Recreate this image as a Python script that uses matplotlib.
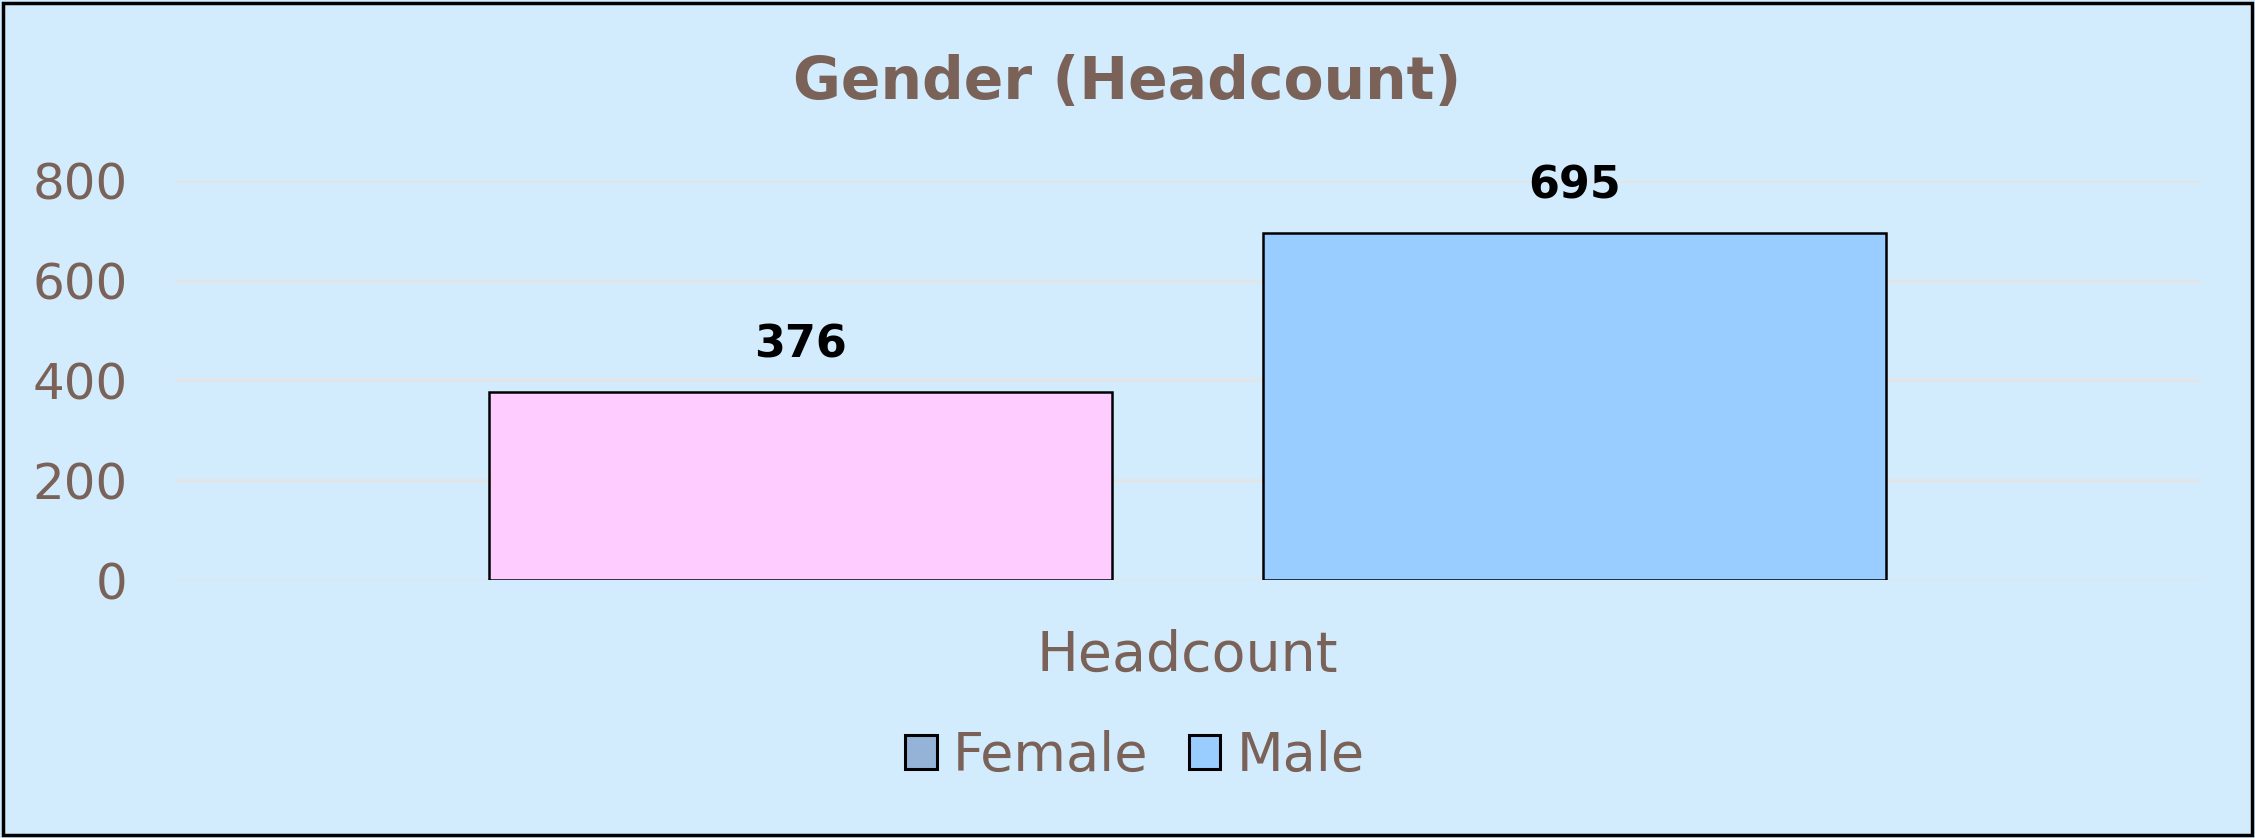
import matplotlib
matplotlib.use("Agg")
import matplotlib.pyplot as plt
from matplotlib.patches import Patch, Rectangle

categories = ["Headcount"]
series_names = ["Female", "Male"]
female_values = [376]
male_values = [695]
y_ticks = [0, 200, 400, 600, 800]

bg = "#D3ECFD"
txt = "#7A6258"
bar_colors = ["#FFCCFF", "#99CCFF"]
legend_colors = ["#95B3D7", "#99CCFF"]

W, H = 2255, 838
fig = plt.figure(figsize=(W / 100, H / 100), dpi=100)
fig.patch.set_facecolor(bg)
font = "DejaVu Sans"

ax = fig.add_axes([175 / W, 1 - 580 / H, (2200 - 175) / W, (580 - 181) / H])
ax.set_facecolor(bg)

width = 0.804
offsets = [-0.5, 0.5]
values = [female_values, male_values]
for name, off, vals, col in zip(series_names, offsets, values, bar_colors):
    xs = [i + off for i in range(len(categories))]
    bars = ax.bar(xs, vals, width=width, color=col, edgecolor="black", linewidth=1.8, zorder=3)
    for b, v in zip(bars, vals):
        ax.text(b.get_x() + b.get_width() / 2, v + 52, f"{v}", ha="center", va="bottom",
                fontsize=32, fontweight="bold", color="black", family=font, clip_on=False)

ax.set_xlim(-1.307, 1.307)
ax.set_ylim(0, 800)
ax.set_yticks(y_ticks)
ax.yaxis.grid(True, color="#E4E4E4", linewidth=2, zorder=0)
ax.set_axisbelow(True)
ax.set_xticks(range(len(categories)))
ax.set_xticklabels(categories)
for s in ax.spines.values():
    s.set_visible(False)
ax.tick_params(axis="both", length=0, labelcolor=txt)
ax.tick_params(axis="y", pad=34, labelsize=36)
ax.tick_params(axis="x", pad=35, labelsize=40)
for lab in ax.get_xticklabels() + ax.get_yticklabels():
    lab.set_family(font)

fig.text(1127 / W, 1 - 82 / H, "Gender (Headcount)", ha="center", va="center",
         fontsize=42, fontweight="bold", color=txt, family=font)

handles = [Patch(facecolor=c, edgecolor="black", linewidth=2.2) for c in legend_colors]
leg = fig.legend(handles, series_names, loc="center", bbox_to_anchor=(1135 / W, 1 - 756 / H),
                 ncol=2, frameon=False, handlelength=0.58, handleheight=0.58,
                 handletextpad=0.3, columnspacing=0.75,
                 prop={"family": font, "size": 39})
for t in leg.get_texts():
    t.set_color(txt)

fig.add_artist(Rectangle((0.0015, 0.003), 0.997, 0.994, transform=fig.transFigure,
                         fill=False, edgecolor="black", linewidth=2.5))

fig.savefig("out.png", dpi=100, facecolor=bg)
